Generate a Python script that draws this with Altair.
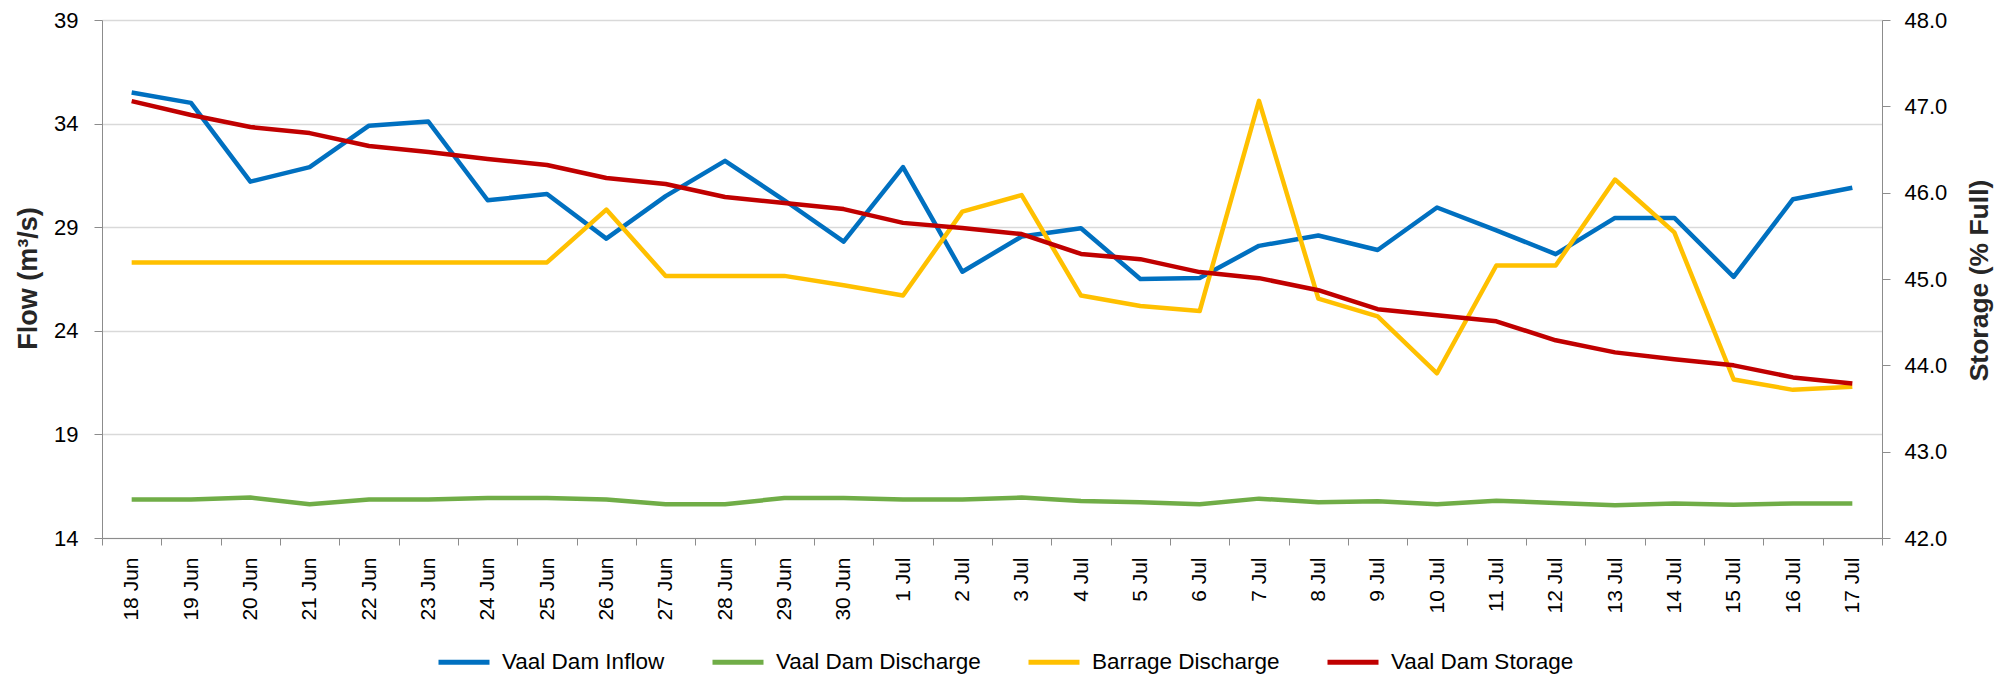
import altair as alt
import pandas as pd

dates = ["18 Jun", "19 Jun", "20 Jun", "21 Jun", "22 Jun", "23 Jun", "24 Jun", "25 Jun",
         "26 Jun", "27 Jun", "28 Jun", "29 Jun", "30 Jun", "1 Jul", "2 Jul", "3 Jul",
         "4 Jul", "5 Jul", "6 Jul", "7 Jul", "8 Jul", "9 Jul", "10 Jul", "11 Jul",
         "12 Jul", "13 Jul", "14 Jul", "15 Jul", "16 Jul", "17 Jul"]

inflow = [35.5, 35.0, 31.2, 31.9, 33.9, 34.1, 30.3, 30.6, 28.45, 30.5,
          32.2, 30.3, 28.3, 31.9, 26.85, 28.55, 28.95, 26.5, 26.55, 28.1,
          28.6, 27.9, 29.95, 28.85, 27.7, 29.45, 29.45, 26.6, 30.35, 30.9]

discharge = [15.86, 15.86, 15.95, 15.63, 15.86, 15.86, 15.93, 15.93, 15.86, 15.63,
             15.63, 15.93, 15.93, 15.86, 15.86, 15.95, 15.79, 15.72, 15.63, 15.9,
             15.72, 15.77, 15.63, 15.8, 15.69, 15.58, 15.67, 15.6, 15.67, 15.67]

barrage = [27.3, 27.3, 27.3, 27.3, 27.3, 27.3, 27.3, 27.3, 29.85, 26.65,
           26.65, 26.65, 26.2, 25.7, 29.75, 30.55, 25.7, 25.2, 24.95, 35.1,
           25.55, 24.7, 21.95, 27.15, 27.15, 31.3, 28.75, 21.65, 21.15, 21.3]

storage = [47.06, 46.9, 46.76, 46.69, 46.54, 46.47, 46.39, 46.32, 46.17, 46.1,
           45.95, 45.88, 45.81, 45.65, 45.59, 45.52, 45.29, 45.23, 45.08, 45.01,
           44.87, 44.65, 44.58, 44.51, 44.29, 44.15, 44.07, 44.0, 43.86, 43.79]

series_names = ["Vaal Dam Inflow", "Vaal Dam Discharge", "Barrage Discharge", "Vaal Dam Storage"]
series_colors = ["#0070C0", "#70AD47", "#FFC000", "#C00000"]

flow_rows = []
for name, vals in zip(series_names[:3], [inflow, discharge, barrage]):
    for d, v in zip(dates, vals):
        flow_rows.append({"date": d, "series": name, "value": v})
flow_df = pd.DataFrame(flow_rows)
storage_df = pd.DataFrame({"date": dates, "series": series_names[3], "storage": storage})

FONT = "Liberation Sans"
AXIS_GRAY = "#8C8C8C"

color = alt.Color(
    "series:N",
    scale=alt.Scale(domain=series_names, range=series_colors),
    legend=alt.Legend(
        orient="none", legendX=334, legendY=614, direction="horizontal", title=None,
        symbolType="stroke", symbolStrokeWidth=5, symbolSize=2601,
        labelFontSize=22.5, labelFont=FONT, labelColor="#000000", labelOffset=10,
        columnPadding=37, labelLimit=400,
    ),
)

x = alt.X(
    "date:N", sort=dates, bandPosition=0.5,
    scale=alt.Scale(type="band", paddingInner=0, paddingOuter=0),
    axis=alt.Axis(
        title=None, labelAngle=270, tickBand="extent", grid=False,
        labelFont=FONT, labelFontSize=21, labelColor="#000000", labelPadding=12,
        domainColor=AXIS_GRAY, tickColor=AXIS_GRAY, tickSize=7, labelLimit=200,
    ),
)

flows = alt.Chart(flow_df).mark_line(strokeWidth=4.5, strokeJoin="round").encode(
    x=x,
    y=alt.Y(
        "value:Q",
        scale=alt.Scale(domain=[14, 39], nice=False, zero=False),
        axis=alt.Axis(
            values=[14, 19, 24, 29, 34, 39], title="Flow (m³/s)",
            titleFont=FONT, titleFontSize=27, titleFontWeight="bold", titleColor="#262626",
            titleAngle=270, titleX=-74, titleY=258, titleAlign="center", titleBaseline="middle",
            labelFont=FONT, labelFontSize=22, labelColor="#000000", labelPadding=16,
            domainColor=AXIS_GRAY, tickColor=AXIS_GRAY, tickSize=8,
            gridColor="#D9D9D9", gridWidth=1.5,
        ),
    ),
    color=color,
)

stor = alt.Chart(storage_df).mark_line(strokeWidth=4.5, strokeJoin="round").encode(
    x=x,
    y=alt.Y(
        "storage:Q",
        scale=alt.Scale(domain=[42, 48], nice=False, zero=False),
        axis=alt.Axis(
            orient="right", values=[42, 43, 44, 45, 46, 47, 48], format=".1f", grid=False,
            title="Storage (% Full)",
            titleFont=FONT, titleFontSize=26.5, titleFontWeight="bold", titleColor="#262626",
            titleAngle=270, titleX=97, titleY=260, titleAlign="center", titleBaseline="middle",
            labelFont=FONT, labelFontSize=22, labelColor="#000000", labelPadding=14,
            domainColor=AXIS_GRAY, tickColor=AXIS_GRAY, tickSize=8,
        ),
    ),
    color=color,
)

chart = alt.layer(flows, stor).resolve_scale(y="independent").properties(
    width=1780, height=518,
    autosize=alt.AutoSizeParams(type="none"),
    padding={"left": 94, "top": 12, "right": 124, "bottom": 146},
    background="white",
).configure_view(stroke=None)

chart.save("out.html", embed_options={"renderer": "svg", "actions": False})
